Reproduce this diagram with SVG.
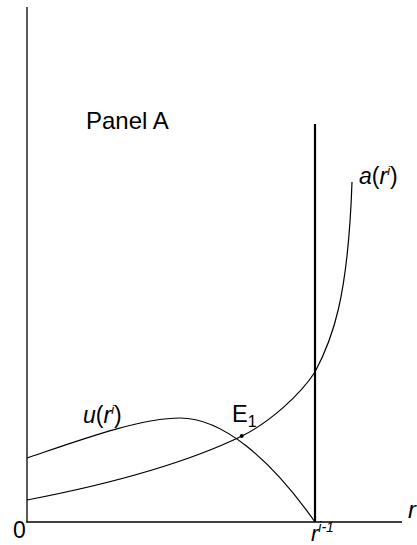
<svg xmlns="http://www.w3.org/2000/svg" width="417" height="545" viewBox="0 0 417 545">
<style>
text{font-family:"Liberation Sans",Arial,sans-serif;fill:#000}
.ax{stroke:#000;stroke-width:1.3;fill:none}
.cv{stroke:#000;stroke-width:1.2;fill:none}
.it{font-style:italic}
</style>
<rect width="417" height="545" fill="#fff"/>
<g id="axes">
<line class="ax" x1="27" y1="7" x2="27" y2="522.5"/>
<line class="ax" x1="26.4" y1="522" x2="402" y2="522"/>
<text x="13" y="538" font-size="23">0</text>
<text x="408" y="518" font-size="24" class="it">r</text>
<text x="311" y="541" font-size="22"><tspan class="it">r</tspan><tspan class="it" font-size="14" dy="-9">i-1</tspan></text>
</g>
<g id="label-panel"><text x="86" y="129" font-size="24">Panel A</text></g>
<g id="connectors">
<line id="limit" x1="315" y1="124" x2="315" y2="522" stroke="#000" stroke-width="2.2"/>
<path id="a-curve" class="cv" d="M27,500 C100,486 180,466 242,436 C270,422 300,395 315,372 C332,340 348,300 352,182"/>
<path id="u-curve" class="cv" d="M27,458 C80,440 140,418 180,418 C222,418 270,458 315,522"/>
</g>
<g id="label-a"><text x="359" y="183.5" font-size="23"><tspan class="it">a</tspan>(<tspan class="it">r</tspan><tspan class="it" font-size="13" dy="-9">i</tspan><tspan dy="9">)</tspan></text></g>
<g id="label-u"><text x="83" y="422.5" font-size="23"><tspan class="it">u</tspan>(<tspan class="it">r</tspan><tspan class="it" font-size="13" dy="-9">i</tspan><tspan dy="9">)</tspan></text></g>
<g id="E1"><circle cx="241.7" cy="436" r="2" fill="#000"/><text x="232" y="422" font-size="23.5">E<tspan font-size="16" dy="5">1</tspan></text></g>
</svg>
